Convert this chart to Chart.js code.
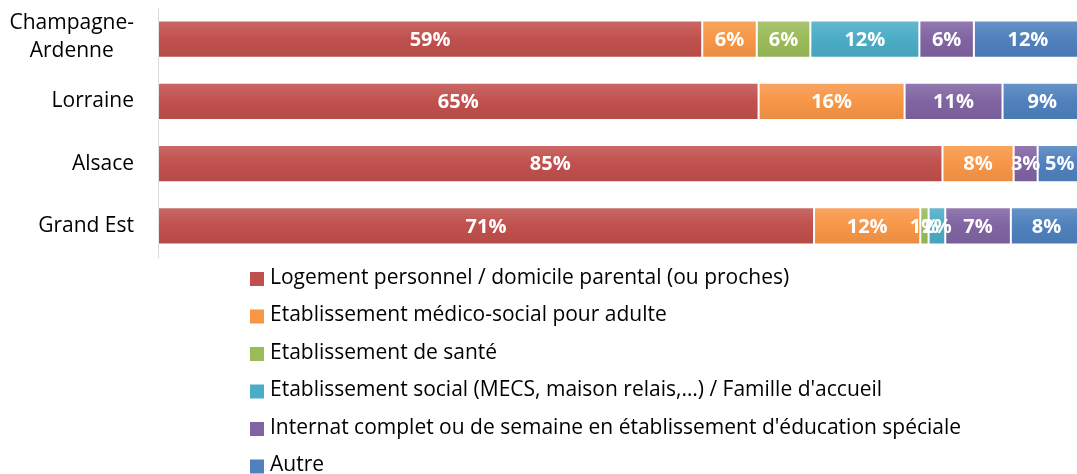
<!DOCTYPE html>
<html>
<head>
<meta charset="utf-8">
<script src="https://cdn.jsdelivr.net/npm/chart.js@4/dist/chart.umd.min.js"></script>
<style>
  html, body { margin: 0; padding: 0; background: #fff; overflow: hidden; }
  #chart { display: block; }
</style>
</head>
<body>
<canvas id="chart" width="1082" height="474"></canvas>
<script>
// categories and series (percentages)
const categories = [['Champagne-', 'Ardenne'], 'Lorraine', 'Alsace', 'Grand Est'];
const seriesNames = [
    'Logement personnel / domicile parental (ou proches)',
    'Etablissement médico-social pour adulte',
    'Etablissement de santé',
    "Etablissement social (MECS, maison relais,…) / Famille d'accueil",
    "Internat complet ou de semaine en établissement d'éducation spéciale",
    'Autre'
];
const logement = [58.9, 65.0, 84.9, 71.0];
const medicoSocial = [5.9, 15.8, 7.7, 11.5];
const sante = [5.8, 0, 0, 0.9];
const social = [11.8, 0, 0, 1.8];
const internat = [5.9, 10.6, 2.6, 7.1];
const autre = [11.7, 8.6, 4.8, 7.7];

const colors = ['#C0504D', '#F79646', '#9BBB59', '#4BACC6', '#8064A2', '#4F81BD'];
const FONT = '"Open Sans", "DejaVu Sans", sans-serif';

function mix(hex, target, t) {
    let r = parseInt(hex.substr(1, 2), 16), g = parseInt(hex.substr(3, 2), 16), b = parseInt(hex.substr(5, 2), 16);
    r = Math.round(r + (target - r) * t);
    g = Math.round(g + (target - g) * t);
    b = Math.round(b + (target - b) * t);
    return `rgb(${r},${g},${b})`;
}

// vertical gradient per bar, like the Office 2007 look
function barFill(base) {
    return function (ctx) {
        const chart = ctx.chart;
        const y = chart.scales.y;
        if (!y || ctx.dataIndex === undefined) return base;
        const cy = y.getPixelForTick(ctx.dataIndex);
        const g = chart.ctx.createLinearGradient(0, cy - 19, 0, cy + 19);
        g.addColorStop(0, mix(base, 255, 0.15));
        g.addColorStop(0.5, base);
        g.addColorStop(1, mix(base, 0, 0.06));
        return g;
    };
}

const allSeries = [logement, medicoSocial, sante, social, internat, autre];

// white value labels in the middle of each segment
const valueLabels = {
    id: 'valueLabels',
    afterDatasetsDraw(chart) {
        const ctx = chart.ctx;
        ctx.save();
        ctx.font = 'bold 20px ' + FONT;
        ctx.fillStyle = '#fff';
        ctx.textAlign = 'center';
        ctx.textBaseline = 'middle';
        chart.data.datasets.forEach((ds, di) => {
            chart.getDatasetMeta(di).data.forEach((el, i) => {
                const v = ds.data[i];
                if (!v) return;
                const p = el.getCenterPoint();
                ctx.fillText(Math.round(v) + '%', p.x, p.y + 1);
            });
        });
        ctx.restore();
    }
};

// category labels: right aligned block, lines centred inside the block
const categoryLabels = {
    id: 'categoryLabels',
    afterDraw(chart) {
        const ctx = chart.ctx;
        const y = chart.scales.y;
        ctx.save();
        ctx.font = '21px ' + FONT;
        ctx.fillStyle = '#000';
        ctx.textAlign = 'center';
        ctx.textBaseline = 'middle';
        const right = 134, lh = 28;
        categories.forEach((c, i) => {
            const lines = Array.isArray(c) ? c : [c];
            const widest = Math.max(...lines.map(l => ctx.measureText(l).width));
            const cx = right - widest / 2;
            const cy = y.getPixelForTick(i);
            lines.forEach((l, k) => {
                ctx.fillText(l, cx, cy + (k - (lines.length - 1) / 2) * lh - (lines.length > 1 ? 2 : 0));
            });
        });
        ctx.restore();
    }
};

// legend: one entry per row, left aligned under the bars
const columnLegend = {
    id: 'columnLegend',
    afterDraw(chart) {
        const ctx = chart.ctx;
        ctx.save();
        ctx.font = '21px ' + FONT;
        ctx.textBaseline = 'middle';
        ctx.textAlign = 'left';
        chart.data.datasets.forEach((ds, i) => {
            const cy = 279 + i * 37.5;
            ctx.fillStyle = colors[i];
            ctx.fillRect(250, cy - 7, 14, 14);
            ctx.fillStyle = '#000';
            ctx.fillText(ds.label, 270, cy - 1);
        });
        ctx.restore();
    }
};

new Chart(document.getElementById('chart'), {
    type: 'bar',
    data: {
        labels: categories,
        datasets: allSeries.map((d, i) => ({
            label: seriesNames[i],
            data: d,
            backgroundColor: barFill(colors[i]),
            borderColor: 'rgba(255,255,255,0.35)',
            borderWidth: 1,
            borderSkipped: false,
            barPercentage: 0.595,
            categoryPercentage: 1
        }))
    },
    options: {
        indexAxis: 'y',
        responsive: false,
        animation: false,
        layout: { padding: { top: 8, bottom: 217, left: 0, right: 0 } },
        scales: {
            x: { stacked: true, min: 0, max: 100, display: false },
            y: {
                stacked: true,
                grid: { display: false, drawTicks: false },
                border: { display: true, color: '#D9D9D9', width: 1 },
                ticks: { display: false },
                afterFit(scale) { scale.width = 158; }
            }
        },
        plugins: {
            legend: { display: false },
            tooltip: { enabled: false }
        }
    },
    plugins: [valueLabels, categoryLabels, columnLegend]
});
</script>
</body>
</html>
